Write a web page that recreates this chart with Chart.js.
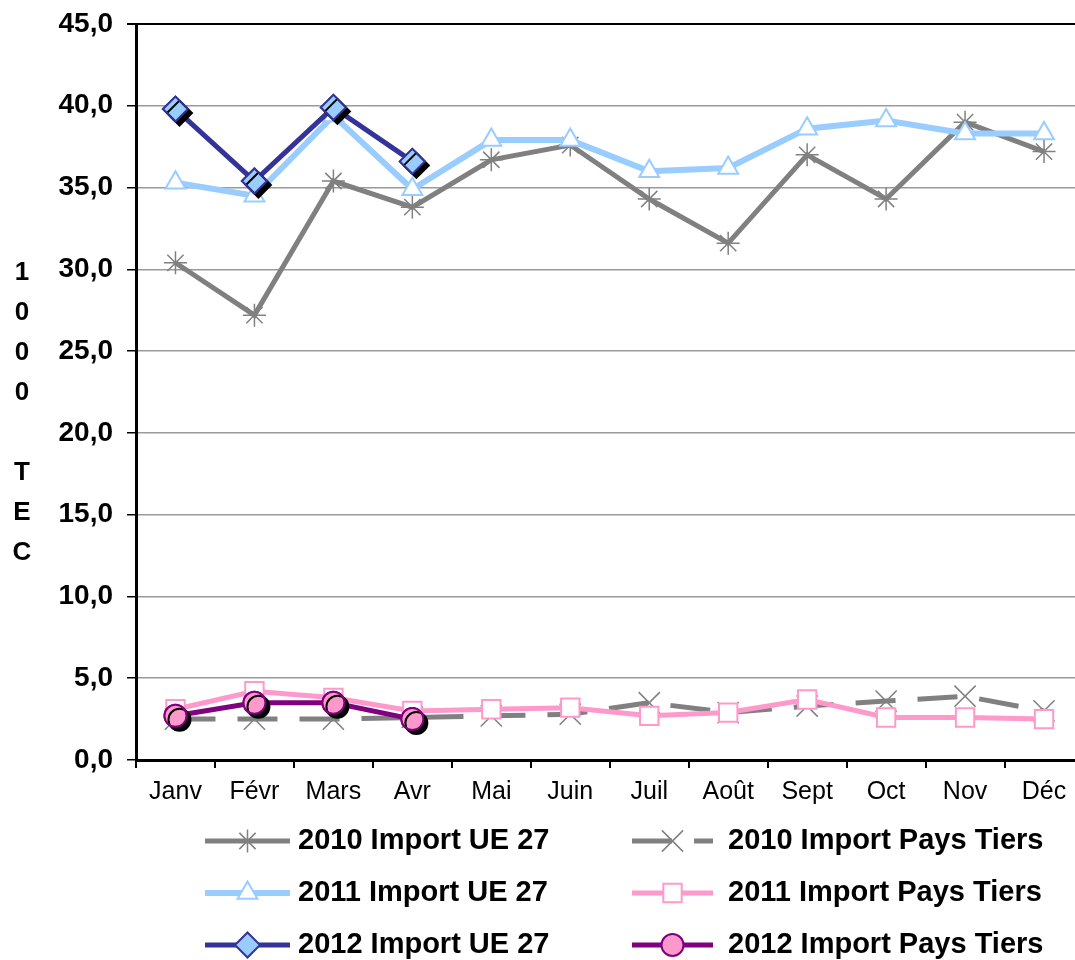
<!DOCTYPE html>
<html>
<head>
<meta charset="utf-8">
<script src="https://cdn.jsdelivr.net/npm/chart.js@4.4.1/dist/chart.umd.min.js"></script>
<style>
  html, body { margin: 0; padding: 0; background: #fff; overflow: hidden; }
  canvas { display: block; }
</style>
</head>
<body>
<canvas id="chart" width="1100" height="960"></canvas>
<script>
// months on the x axis
var months = ["Janv", "Févr", "Mars", "Avr", "Mai", "Juin", "Juil", "Août", "Sept", "Oct", "Nov", "Déc"];

// values in 1000 TEC
var ue2010 = [30.4, 27.2, 35.4, 33.8, 36.7, 37.6, 34.3, 31.6, 37.0, 34.3, 39.0, 37.2];
var tiers2010 = [2.5, 2.5, 2.5, 2.6, 2.7, 2.8, 3.5, 2.9, 3.3, 3.6, 3.9, 3.0];
var ue2011 = [35.3, 34.5, 39.4, 34.9, 37.9, 37.9, 36.0, 36.2, 38.6, 39.1, 38.3, 38.3];
var tiers2011 = [3.1, 4.2, 3.8, 3.0, 3.1, 3.2, 2.7, 2.9, 3.7, 2.6, 2.6, 2.5];
var ue2012 = [39.8, 35.4, 39.9, 36.6];
var tiers2012 = [2.7, 3.5, 3.5, 2.5];

var yTicks = [0, 5, 10, 15, 20, 25, 30, 35, 40, 45];
var yTitle = ["1", "0", "0", "0", "", "T", "E", "C"];

var FONT = "'Liberation Sans', Arial, sans-serif";

var datasets = [
  {
    label: "2010 Import UE 27",
    data: ue2010,
    borderColor: "#808080",
    borderWidth: 5,
    pointStyle: "star",
    pointRadius: 11.5,
    pointBorderColor: "#808080",
    pointBackgroundColor: "#808080",
    pointBorderWidth: 1.5,
    order: 6,
  },
  {
    label: "2010 Import Pays Tiers",
    data: tiers2010,
    borderColor: "#808080",
    borderWidth: 5,
    borderDash: [40, 22],
    pointStyle: "crossRot",
    pointRadius: 15,
    pointBorderColor: "#808080",
    pointBackgroundColor: "#808080",
    pointBorderWidth: 1.5,
    order: 5,
  },
  {
    label: "2011 Import UE 27",
    data: ue2011,
    borderColor: "#99ccff",
    borderWidth: 6,
    pointStyle: "triangle",
    pointRadius: 11.5,
    pointBorderColor: "#99ccff",
    pointBackgroundColor: "#ffffff",
    pointBorderWidth: 2,
    order: 4,
  },
  {
    label: "2011 Import Pays Tiers",
    data: tiers2011,
    borderColor: "#ff99cc",
    borderWidth: 5,
    pointStyle: "rect",
    pointRadius: 13,
    pointBorderColor: "#ff99cc",
    pointBackgroundColor: "#ffffff",
    pointBorderWidth: 2,
    order: 3,
  },
  {
    label: "2012 Import UE 27",
    data: ue2012,
    borderColor: "#333399",
    borderWidth: 5,
    pointStyle: "rectRot",
    pointRadius: 12.5,
    pointBorderColor: "#333399",
    pointBackgroundColor: "#99ccff",
    pointBorderWidth: 2,
    shadow: true,
    order: 2,
  },
  {
    label: "2012 Import Pays Tiers",
    data: tiers2012,
    borderColor: "#800080",
    borderWidth: 5,
    pointStyle: "circle",
    pointRadius: 11,
    pointBorderColor: "#800080",
    pointBackgroundColor: "#ff99cc",
    pointBorderWidth: 2,
    shadow: true,
    order: 1,
  },
];

// black drop shadow under the 2012 markers
var markerShadow = {
  id: "markerShadow",
  afterDatasetDraw: function (chart, args) {
    var ds = chart.data.datasets[args.index];
    if (!ds.shadow) return;
    var ctx = chart.ctx;
    ctx.save();
    ctx.shadowColor = "#000";
    ctx.shadowOffsetX = 4;
    ctx.shadowOffsetY = 4;
    ctx.shadowBlur = 0;
    args.meta.data.forEach(function (pt) {
      pt.draw(ctx, chart.chartArea);
    });
    ctx.restore();
  },
};

// vertical "1000 TEC" title, one character per line
var stackedTitle = {
  id: "stackedTitle",
  afterDraw: function (chart) {
    var ctx = chart.ctx;
    ctx.save();
    ctx.fillStyle = "#000";
    ctx.font = "bold 26px " + FONT;
    ctx.textAlign = "center";
    ctx.textBaseline = "middle";
    yTitle.forEach(function (ch, i) {
      ctx.fillText(ch, 22, 273 + i * 40);
    });
    ctx.restore();
  },
};

// legend in two columns, line + marker + bold text
var bottomLegend = {
  id: "bottomLegend",
  afterDraw: function (chart) {
    var ctx = chart.ctx;
    var cols = [
      { x0: 205, x1: 290, tx: 298 },
      { x0: 632, x1: 713, tx: 728 },
    ];
    var rows = [841, 893, 945];
    chart.data.datasets.forEach(function (ds, i) {
      var c = cols[i % 2];
      var y = rows[Math.floor(i / 2)];
      ctx.save();
      ctx.strokeStyle = ds.borderColor;
      ctx.lineWidth = ds.borderWidth;
      ctx.setLineDash(ds.borderDash || []);
      ctx.beginPath();
      ctx.moveTo(c.x0, y);
      ctx.lineTo(c.x1, y);
      ctx.stroke();
      ctx.setLineDash([]);
      ctx.fillStyle = ds.pointBackgroundColor;
      ctx.strokeStyle = ds.pointBorderColor;
      ctx.lineWidth = ds.pointBorderWidth;
      Chart.helpers.drawPoint(ctx, {
        pointStyle: ds.pointStyle,
        radius: ds.pointRadius,
        rotation: 0,
        borderWidth: ds.pointBorderWidth,
      }, (c.x0 + c.x1) / 2, y);
      ctx.fillStyle = "#000";
      ctx.font = "bold 29px " + FONT;
      ctx.textAlign = "left";
      ctx.textBaseline = "middle";
      ctx.fillText(ds.label, c.tx, y);
      ctx.restore();
    });
  },
};

var config = {
  type: "line",
  data: {
    labels: months,
    datasets: datasets,
  },
  options: {
    responsive: false,
    animation: false,
    elements: {
      line: { tension: 0 },
    },
    layout: {
      padding: { top: 24, left: 0, right: 0, bottom: 0 },
    },
    plugins: {
      legend: { display: false },
      tooltip: { enabled: false },
    },
    scales: {
      x: {
        offset: true,
        afterFit: function (scale) {
          scale.height = 200;
          scale.paddingLeft = 0;
          scale.paddingRight = 0;
        },
        grid: {
          offset: true,
          drawOnChartArea: false,
          drawTicks: true,
          tickLength: 8,
          tickColor: "#000",
          lineWidth: 2,
        },
        border: { color: "#000", width: 3 },
        ticks: {
          color: "#000",
          padding: 9,
          maxRotation: 0,
          font: { family: FONT, size: 25 },
        },
      },
      y: {
        min: 0,
        max: 45,
        afterFit: function (scale) {
          scale.width = 136;
          scale.paddingTop = 0;
          scale.paddingBottom = 0;
        },
        afterBuildTicks: function (scale) {
          scale.ticks = yTicks.map(function (v) { return { value: v }; });
        },
        grid: {
          color: function (c) { return c.tick && c.tick.value === 45 ? "#000" : "#9a9a9a"; },
          lineWidth: function (c) { return c.tick && c.tick.value === 45 ? 2 : 1.5; },
          tickLength: 9,
          tickColor: "#000",
        },
        border: { color: "#000", width: 3 },
        ticks: {
          color: "#000",
          padding: 14,
          font: { family: FONT, size: 28, weight: "bold" },
          callback: function (v) { return v.toFixed(1).replace(".", ","); },
        },
      },
    },
  },
  plugins: [markerShadow, stackedTitle, bottomLegend],
};

window.onload = function () {
  var ctx = document.getElementById("chart").getContext("2d");
  window.myChart = new Chart(ctx, config);
};
</script>
</body>
</html>
